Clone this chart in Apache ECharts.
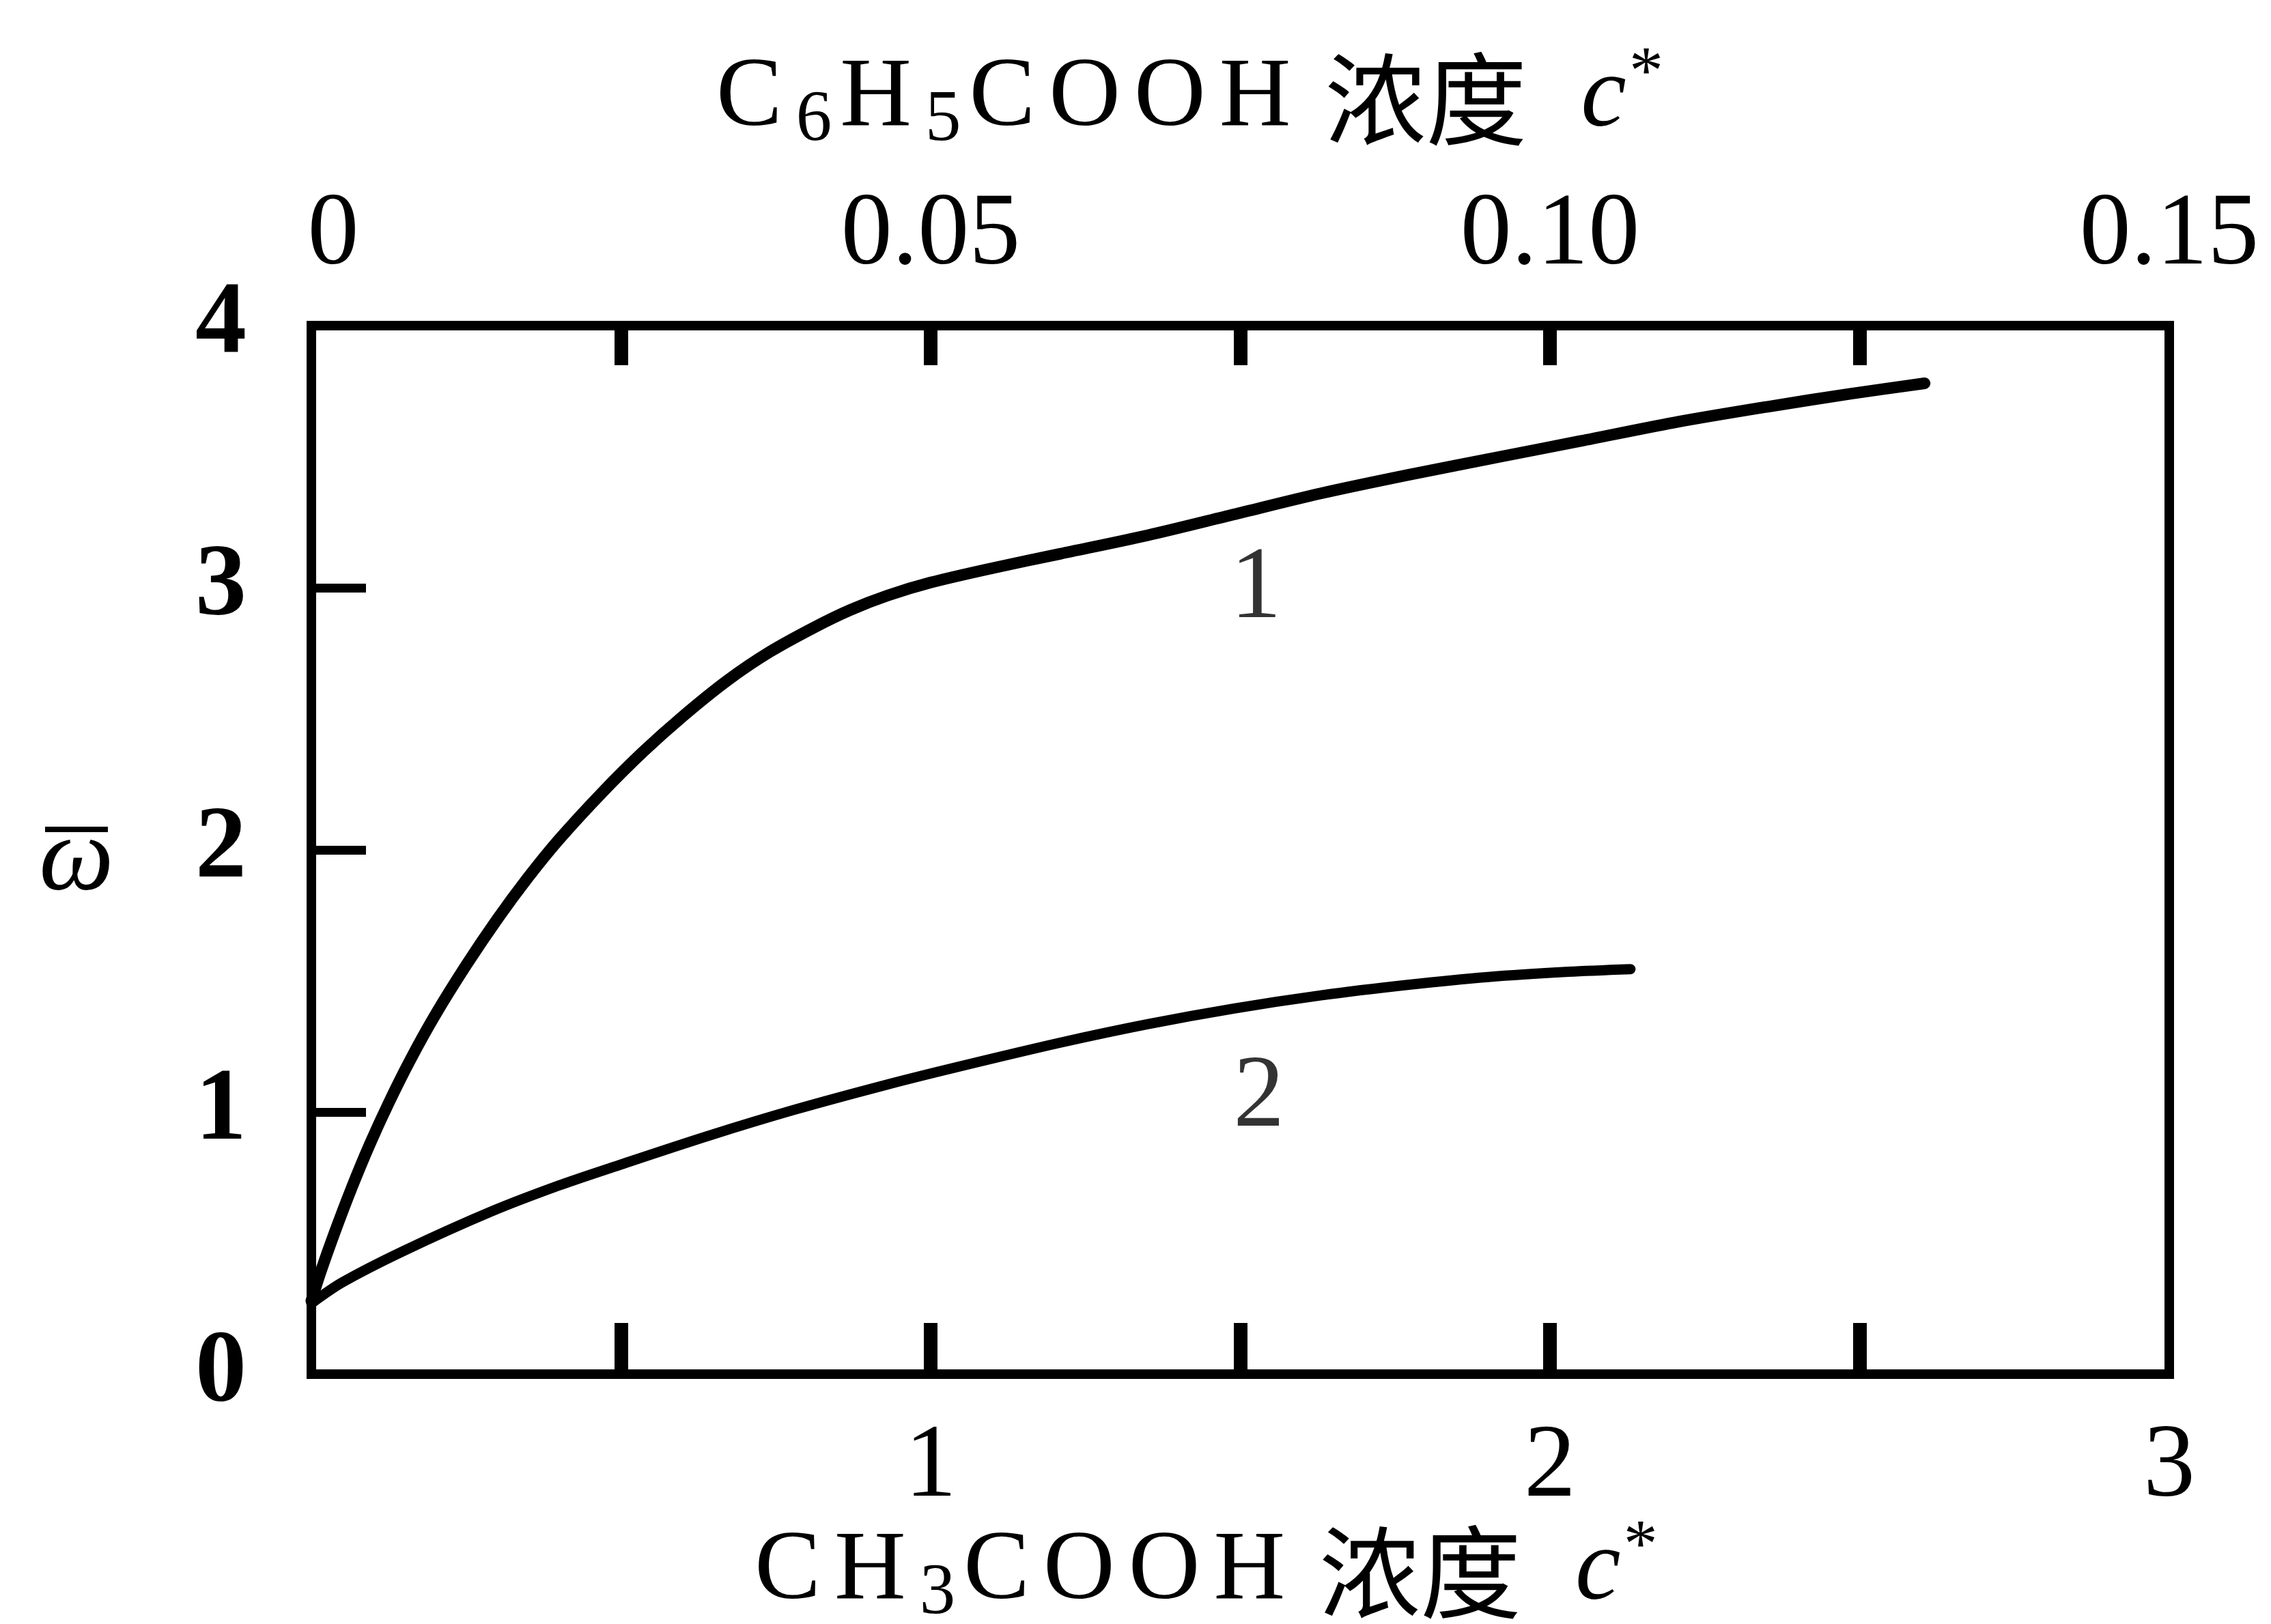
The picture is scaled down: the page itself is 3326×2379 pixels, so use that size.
<!DOCTYPE html>
<html>
<head>
<meta charset="utf-8">
<script src="https://cdn.jsdelivr.net/npm/echarts@6/dist/echarts.min.js"></script>
<style>html,body{margin:0;padding:0;background:#fff}#c{width:3326px;height:2379px}</style>
</head>
<body>
<div id="c"></div>
<script>
// ---- data ----
const curve1 = [[0,0.28],[0.015,0.39],[0.036,0.53],[0.065,0.71],[0.094,0.875],[0.125,1.035],[0.16,1.2],[0.2,1.37],[0.25,1.56],[0.3,1.735],[0.35,1.895],[0.4,2.04],[0.47,2.22],[0.536,2.375],[0.6,2.51],[0.671,2.645],[0.74,2.755],[0.813,2.85],[0.87,2.915],[0.93,2.97],[1.0,3.02],[1.1,3.075],[1.21,3.13],[1.35,3.2],[1.49,3.28],[1.63,3.36],[1.77,3.43],[1.92,3.5],[2.05,3.56],[2.2,3.63],[2.35,3.69],[2.485,3.74],[2.605,3.78]];
const curve2 = [[0,0.27],[0.05,0.35],[0.149,0.47],[0.29,0.62],[0.4,0.72],[0.5,0.8],[0.642,0.91],[0.782,1.01],[0.93,1.105],[1.04,1.17],[1.21,1.265],[1.35,1.335],[1.49,1.395],[1.63,1.445],[1.77,1.485],[1.9,1.515],[2.03,1.535],[2.13,1.545]];
const curveLabels = ['1','2'];
const curveLabelPos = [[1.525,2.99],[1.53,1.05]];
const bottomTickValues = [0.5,1,1.5,2,2.5];
const bottomLabelValues = [1,2,3];
const bottomLabelTexts = ['1','2','3'];
const topTickValues = [0.025,0.05,0.075,0.1,0.125];
const topLabelValues = [0,0.05,0.10,0.15];
const topLabelTexts = ['0','0.05','0.10','0.15'];
const leftTickValues = [1,2,3];
const leftLabelValues = [0,1,2,3,4];
const leftLabelTexts = ['0','1','2','3','4'];

const chart = echarts.init(document.getElementById('c'), null, {renderer:'canvas'});
const serif = "'Liberation Serif','Times New Roman',serif";
const cjk = "'Noto Sans CJK SC'";
const AX = '#000';
function titleRich(){
  return {
    t: {fontFamily:serif,fontSize:145,lineHeight:170,color:'#000',padding:[0,20,0,0]},
    e: {fontFamily:serif,fontSize:145,lineHeight:170,color:'#000'},
    s: {fontFamily:serif,fontSize:105,lineHeight:106,verticalAlign:'bottom',color:'#000',padding:[0,12,0,0]},
    z: {fontFamily:cjk,fontSize:148,lineHeight:170,color:'#000',padding:[0,24,0,0]},
    z0:{fontFamily:cjk,fontSize:148,lineHeight:170,color:'#000',padding:[0,0,0,50]},
    i: {fontFamily:serif,fontStyle:'italic',fontSize:150,lineHeight:170,color:'#000',padding:[0,4,0,55]},
    p: {fontFamily:serif,fontSize:100,lineHeight:112,verticalAlign:'top',color:'#000'}
  };
}
const topTitle = '{t|C}{s|6}{t|H}{s|5}{t|C}{t|O}{t|O}{e|H}{z0|浓}{z|度}{i|c}{p|*}';
const bottomTitle = '{t|C}{t|H}{s|3}{t|C}{t|O}{t|O}{e|H}{z0|浓}{z|度}{i|c}{p|*}';

function findLabel(vals, labels, v){
  for (let i=0;i<vals.length;i++){ if (Math.abs(vals[i]-v) < 1e-9) return labels[i]; }
  return '';
}

const option = {
  backgroundColor:'#fff',
  animation:false,
  grid:{left:456, top:477, width:2721, height:1536, containLabel:false, outerBoundsMode:'none'},
  xAxis:[
    {
      type:'value', position:'bottom', min:0, max:3, interval:0.5,
      axisLine:{show:true,onZero:false,lineStyle:{color:AX,width:14,cap:'square'}},
      axisTick:{show:true,inside:true,length:75,customValues:bottomTickValues,lineStyle:{color:AX,width:20}},
      axisLabel:{show:true,margin:62,fontFamily:serif,fontSize:152,lineHeight:152,color:'#000',
        customValues:bottomLabelValues,
        formatter:v=>findLabel(bottomLabelValues,bottomLabelTexts,v)},
      splitLine:{show:false},
      name:bottomTitle, nameLocation:'middle', nameGap:205, nameMoveOverlap:false,
      nameTextStyle:{rich:titleRich(), padding:[0,100,0,0]}
    },
    {
      type:'value', position:'top', min:0, max:0.15, interval:0.025,
      axisLine:{show:true,onZero:false,lineStyle:{color:AX,width:14,cap:'square'}},
      axisTick:{show:true,inside:true,length:58,customValues:topTickValues,lineStyle:{color:AX,width:20}},
      axisLabel:{show:true,margin:55,fontFamily:serif,fontSize:150,lineHeight:150,color:'#000',
        customValues:topLabelValues,
        formatter:v=>{const s=findLabel(topLabelValues,topLabelTexts,v); return v===0 ? '{f|'+s+'}' : s;},
        rich:{f:{fontFamily:serif,fontSize:150,lineHeight:150,color:'#000',padding:[0,0,0,64]}}},
      splitLine:{show:false},
      name:topTitle, nameLocation:'middle', nameGap:247, nameMoveOverlap:false,
      nameTextStyle:{rich:titleRich(), padding:[0,148,0,0]}
    }
  ],
  yAxis:[
    {
      type:'value', position:'left', min:0, max:4, interval:1,
      axisLine:{show:true,onZero:false,lineStyle:{color:AX,width:14,cap:'square'}},
      axisTick:{show:true,inside:true,length:80,customValues:leftTickValues,lineStyle:{color:AX,width:13}},
      axisLabel:{show:true,margin:95,fontFamily:serif,fontWeight:'bold',fontSize:150,color:'#000',
        customValues:leftLabelValues,
        formatter:v=>findLabel(leftLabelValues,leftLabelTexts,v)},
      splitLine:{show:false},
      name:'{b| }\n{w|ω}', nameLocation:'middle', nameRotate:0, nameGap:344, nameMoveOverlap:false,
      nameTextStyle:{align:'center',padding:[24,0,0,0],rich:{
        b:{width:92,height:8,lineHeight:8,fontSize:8,backgroundColor:'#000',align:'center'},
        w:{fontFamily:serif,fontStyle:'italic',fontSize:155,lineHeight:84,color:'#000',align:'center'}
      }}
    },
    {
      type:'value', position:'right', min:0, max:4, interval:1,
      axisLine:{show:true,onZero:false,lineStyle:{color:AX,width:14,cap:'square'}},
      axisTick:{show:false}, axisLabel:{show:false}, splitLine:{show:false}
    }
  ],
  series:[
    {type:'line', xAxisIndex:0, yAxisIndex:0, data:curve1, showSymbol:false, smooth:0.3,
     lineStyle:{color:'#000',width:17,cap:'round'}},
    {type:'line', xAxisIndex:0, yAxisIndex:0, data:curve2, showSymbol:false, smooth:0.3,
     lineStyle:{color:'#000',width:15,cap:'round'}},
    {type:'scatter', xAxisIndex:0, yAxisIndex:0, symbolSize:1, itemStyle:{color:'#fff'},
     data:curveLabelPos.map((p,i)=>({value:p,name:curveLabels[i]})),
     label:{show:true,position:'inside',formatter:p=>p.name,fontFamily:serif,fontSize:150,
            color:'#000',textBorderWidth:0,textBorderColor:'transparent'}}
  ]
};
chart.setOption(option);
</script>
</body>
</html>
